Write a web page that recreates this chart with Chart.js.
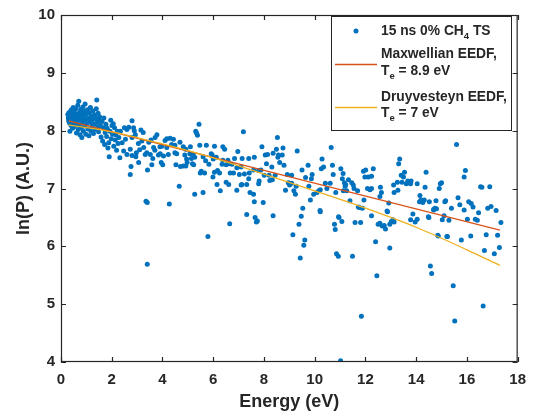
<!DOCTYPE html>
<html>
<head>
<meta charset="utf-8">
<script src="https://cdn.jsdelivr.net/npm/chart.js@4.4.1/dist/chart.umd.min.js"></script>
<style>
  html, body { margin: 0; padding: 0; background: #fff; }
</style>
</head>
<body>
<canvas id="graph-eedf" width="535" height="416"></canvas>
<script>
// Datos: energia (eV) y ln(P) de cada punto TS
const tsPoints = [
  [0.27,8.28],[0.29,8.22],[0.30,8.17],[0.31,8.31],[0.33,8.25],[0.34,8.13],[0.35,7.99],[0.36,8.20],[0.38,8.34],[0.39,8.27],
  [0.40,8.09],[0.41,8.36],[0.43,8.21],[0.44,8.15],[0.45,8.30],[0.46,8.04],[0.48,8.40],[0.49,8.24],[0.50,8.18],
  [0.52,8.33],[0.53,8.07],[0.55,8.26],[0.57,8.12],[0.58,8.38],[0.60,8.21],[0.61,7.96],[0.63,8.29],[0.65,8.16],[0.66,8.44],
  [0.68,8.02],[0.70,8.51],[0.71,8.24],[0.72,8.10],[0.74,8.32],[0.75,7.93],[0.77,8.19],[0.78,8.37],[0.80,8.05],[0.82,7.88],
  [0.83,8.27],[0.85,8.14],[0.86,8.41],[0.88,7.99],[0.90,8.22],[0.91,8.33],[0.93,8.08],[0.95,8.46],[0.96,8.18],[0.98,7.94],
  [1.00,8.28],[1.02,8.12],[1.04,8.36],[1.06,8.03],[1.08,8.21],[1.10,7.91],[1.12,8.31],[1.14,8.15],[1.16,8.40],[1.18,7.99],
  [1.20,8.25],[1.22,8.08],[1.24,8.19],[1.26,8.34],[1.28,7.95],[1.30,8.11],[1.32,8.27],[1.34,8.02],[1.37,8.21],[1.39,8.38],
  [1.41,8.53],[1.42,8.14],[1.44,8.06],[1.46,8.30],[1.48,7.98],[1.50,8.17],[1.52,8.24],[1.55,8.09],[1.58,7.89],
  [1.62,8.16],[1.64,7.82],[1.66,8.05],[1.69,8.22],[1.72,7.76],[1.74,7.97],[1.77,8.11],[1.80,7.90],[1.82,8.04],[1.85,7.70],
  [1.88,7.79],[1.90,7.55],[1.93,7.99],[1.96,8.18],[1.98,7.86],[2.01,8.09],[2.03,7.94],[2.06,8.12],[2.08,7.73],[2.11,8.05],
  [2.14,7.84],[2.16,7.93],[2.19,7.66],[2.22,7.99],[2.25,7.78],
  [2.28,7.88],[2.32,7.53],[2.34,7.99],[2.41,7.79],[2.47,7.65],[2.50,8.05],[2.54,7.85],[2.60,8.02],[2.60,7.59],[2.67,8.06],
  [2.73,7.68],[2.73,7.24],[2.76,7.38],[2.80,7.88],[2.80,7.57],[2.86,8.05],[2.93,7.93],[2.97,7.62],[3.06,7.45],[3.19,7.82],
  [3.26,7.71],[3.32,7.59],[3.41,7.32],[3.52,7.59],[3.58,7.41],[3.65,7.71],[3.71,7.88],[3.78,7.93],[3.84,7.58],
  [2.80,8.17],[2.89,8.00],[3.15,8.01],[3.24,7.97],[3.05,7.78],[3.38,7.62],[3.46,7.80],[3.62,7.52],[3.70,7.66],[3.90,7.72],
  [3.95,7.45],[2.95,7.55],[3.10,7.67],[3.55,7.84],[3.35,6.78],[3.40,6.76],[3.40,5.69],
  [5.44,8.11],[5.31,7.99],[5.34,7.96],[5.38,7.92],[7.19,7.98],[4.10,7.83],[4.17,7.86],[4.30,7.87],[4.43,7.85],[4.69,7.80],
  [3.97,7.73],[4.17,7.71],[4.36,7.76],[4.49,7.75],[4.82,7.72],[4.92,7.68],[5.10,7.72],[5.47,7.75],[5.73,7.75],[6.05,7.73],
  [6.38,7.72],[6.45,7.68],[6.97,7.64],[3.91,7.60],[4.04,7.56],[4.23,7.59],[4.49,7.62],[4.56,7.60],[4.88,7.58],[5.08,7.60],
  [5.21,7.58],[4.95,7.51],[5.14,7.52],[5.27,7.54],[5.60,7.55],[5.92,7.60],[5.96,7.58],[6.12,7.54],[6.38,7.49],[6.58,7.49],
  [6.84,7.52],[7.14,7.52],[7.40,7.52],[7.62,7.54],[4.01,7.41],[4.53,7.41],[4.71,7.38],[4.82,7.39],[4.92,7.39],[4.97,7.45],
  [5.18,7.43],[5.23,7.41],[5.70,7.48],[5.83,7.42],[6.00,7.51],[6.35,7.42],[6.51,7.41],[6.64,7.43],[6.74,7.42],[6.93,7.36],
  [7.10,7.37],[5.53,7.30],[5.49,7.27],[5.66,7.27],[6.05,7.28],[6.17,7.31],[6.25,7.27],[6.67,7.27],[6.80,7.27],[7.03,7.24],
  [7.23,7.25],[7.42,7.27],[7.59,7.32],[7.79,7.31],[5.99,7.20],[7.40,7.17],[6.15,7.07],[6.51,7.11],[6.61,7.07],[7.13,7.07],
  [7.32,7.07],[7.79,7.08],[4.66,7.04],[6.28,6.96],[6.93,6.97],[7.10,7.06],[5.27,6.90],[5.60,6.93],[7.45,6.93],[7.59,6.90],
  [7.62,6.77],[4.27,6.73],[5.79,6.17],[6.65,6.39],[7.32,6.55],[7.65,6.50],[7.70,6.42],[7.74,6.44],
  [8.53,7.88],[7.92,7.72],[8.49,7.68],[8.75,7.70],[9.31,7.65],[8.05,7.58],[8.14,7.59],[8.57,7.58],[8.72,7.58],[8.10,7.43],
  [8.62,7.45],[8.79,7.40],[8.31,7.37],[9.74,7.40],[7.88,7.32],[8.01,7.23],[8.20,7.23],[8.44,7.23],[8.92,7.24],[9.09,7.23],
  [7.81,7.13],[8.23,7.14],[8.33,7.15],[8.96,7.10],[9.01,7.06],[9.09,7.09],[9.27,7.04],[8.85,6.97],[9.18,6.96],[9.24,6.90],
  [9.64,7.19],[9.87,7.17],[9.90,7.24],[10.29,7.51],[10.26,7.34],[10.35,7.37],[10.70,7.40],[10.65,7.71],[9.77,7.04],[9.96,6.90],
  [10.09,6.93],[10.16,6.96],[10.22,6.98],[9.83,6.80],[9.53,6.66],[10.22,6.60],[10.42,7.09],[10.61,7.09],[10.48,7.00],[10.83,6.93],
  [11.17,7.10],[11.22,7.07],[11.33,7.15],[11.26,6.96],[11.13,6.96],[11.52,7.06],[11.39,6.79],[11.69,6.96],[7.97,6.76],[8.36,6.53],
  [9.38,6.38],[9.14,6.20],[9.61,6.11],[10.94,6.51],[10.78,6.38],[10.81,6.29],[11.07,6.43],[11.59,6.41],
  [8.36,7.61],[8.55,7.54],[9.50,7.32],[10.73,7.24],[11.09,7.17],[11.46,7.10],[11.55,7.00],[11.20,7.04],[11.03,7.34],[11.12,7.26],
  [9.47,6.52],[9.57,6.02],[9.43,5.80],[10.21,6.62],[10.96,6.50],[10.86,5.87],[10.93,5.83],[11.49,5.83],[11.81,6.41],[11.76,6.67],
  [11.84,4.79],[11.02,4.02],
  [13.35,7.51],[13.31,7.43],[11.92,7.30],[12.01,7.32],[12.31,7.34],[12.24,7.21],[11.98,7.20],[12.11,7.20],[14.39,7.28],[13.41,7.23],
  [13.67,7.13],[13.74,7.10],[13.80,7.13],[13.78,7.08],[13.61,7.08],[13.26,7.11],[13.44,7.11],[14.04,7.08],[14.95,7.08],[14.91,7.00],
  [12.08,7.00],[12.24,7.00],[12.18,6.98],[13.13,6.93],[13.28,6.97],[12.63,6.93],[12.57,6.86],[14.19,6.80],[14.32,6.80],[14.13,6.77],
  [14.26,6.76],[14.52,6.77],[14.78,6.79],[15.13,6.77],[12.92,6.75],[11.72,6.68],[11.88,6.66],[14.74,6.66],[14.69,6.63],[12.87,6.60],
  [13.87,6.56],[12.24,6.53],[13.09,6.46],[13.02,6.43],[13.13,6.42],[14.48,6.51],[13.78,6.46],[13.96,6.42],[14.04,6.47],[12.50,6.38],
  [12.57,6.40],[12.66,6.35],[12.74,6.36],[12.79,6.30],[12.96,6.38],[14.85,6.19],[15.21,6.17],[12.40,6.08],[12.96,5.97],[12.85,6.61],
  [13.54,7.28],[13.50,7.20],[13.11,7.06],[14.35,7.02],[14.15,6.88],[12.59,7.02],[11.94,6.80],[12.45,5.49],
  [14.50,6.50],[14.69,6.64],[14.80,6.65],[14.87,6.18],[14.56,5.66],[14.61,5.53],
  [15.59,7.76],[15.94,7.31],[15.89,7.20],[16.54,7.03],[16.59,7.02],[16.90,7.03],[15.16,6.79],[15.65,6.84],[15.72,6.72],[15.39,6.66],
  [15.89,6.63],[16.07,6.77],[16.17,6.74],[16.24,6.68],[16.46,6.58],[16.82,6.66],[16.95,6.69],[17.15,6.62],[17.34,6.41],[15.10,6.53],
  [15.03,6.46],[15.29,6.45],[16.02,6.47],[16.33,6.47],[16.41,6.45],[15.23,6.17],[15.78,6.11],[16.15,6.18],[16.76,6.20],[17.21,6.19],
  [16.69,5.93],[17.08,5.87],[17.28,5.98],[15.46,5.32],[16.64,4.97],[15.52,4.71],[15.00,7.10]
];

// Ajuste Maxwelliano (recta) y Druyvesteyn
const maxwellE = [0.3, 17.3];
const maxwellLnP = [8.17, 6.28];
const druyE = [0.3, 2, 4, 6, 8, 10, 12, 14, 16, 17.3];
const druyLnP = [8.10, 7.98, 7.77, 7.53, 7.25, 6.96, 6.66, 6.33, 5.94, 5.67];

const xTicks = [0, 2, 4, 6, 8, 10, 12, 14, 16, 18];
const yTicks = [4, 5, 6, 7, 8, 9, 10];

// Colores por defecto de MATLAB
const colores = ["#0072BD", "#D95319", "#EDB120"];
const ejeColor = "#262626";
const fuente = "'Liberation Sans', Arial, Helvetica, sans-serif";

// Caja del eje con marcas hacia dentro en los cuatro lados
const cajaEjes = {
  id: "cajaEjes",
  afterDraw(chart) {
    const { ctx, chartArea: a, scales } = chart;
    ctx.save();
    ctx.strokeStyle = ejeColor;
    ctx.lineWidth = 1.2;
    ctx.strokeRect(a.left + 0.5, a.top + 0.5, a.right - a.left - 1, a.bottom - a.top - 1);
    ctx.beginPath();
    xTicks.forEach(v => {
      const px = Math.round(scales.x.getPixelForValue(v)) + 0.5;
      ctx.moveTo(px, a.bottom); ctx.lineTo(px, a.bottom - 5);
      ctx.moveTo(px, a.top); ctx.lineTo(px, a.top + 5);
    });
    yTicks.forEach(v => {
      const py = Math.round(scales.y.getPixelForValue(v)) + 0.5;
      ctx.moveTo(a.left, py); ctx.lineTo(a.left + 5, py);
      ctx.moveTo(a.right, py); ctx.lineTo(a.right - 5, py);
    });
    ctx.stroke();
    ctx.restore();
  }
};

// Leyenda propia (para poder escribir subindices)
function textoSub(ctx, partes, x, y) {
  partes.forEach(p => {
    if (p.sub) {
      ctx.font = "bold 9.5px " + fuente;
      ctx.fillText(p.t, x, y + 5);
    } else {
      ctx.font = "bold 13.8px " + fuente;
      ctx.fillText(p.t, x, y);
    }
    x += ctx.measureText(p.t).width;
  });
}

const leyenda = {
  id: "leyenda",
  afterDraw(chart) {
    const ctx = chart.ctx;
    const box = { left: 331, top: 16, right: 511, bottom: 130 };
    ctx.save();
    ctx.fillStyle = "#fff";
    ctx.fillRect(box.left, box.top, box.right - box.left, box.bottom - box.top);
    ctx.strokeStyle = ejeColor;
    ctx.lineWidth = 1;
    ctx.strokeRect(box.left + 0.5, box.top + 0.5, box.right - box.left, box.bottom - box.top);

    ctx.fillStyle = colores[0];
    ctx.beginPath();
    ctx.arc(356, 31, 2.5, 0, Math.PI * 2);
    ctx.fill();

    ctx.lineWidth = 1.3;
    ctx.strokeStyle = colores[1];
    ctx.beginPath(); ctx.moveTo(335, 64.5); ctx.lineTo(377, 64.5); ctx.stroke();
    ctx.strokeStyle = colores[2];
    ctx.beginPath(); ctx.moveTo(335, 107.5); ctx.lineTo(377, 107.5); ctx.stroke();

    ctx.fillStyle = ejeColor;
    ctx.textBaseline = "middle";
    const tx = 381;
    textoSub(ctx, [{ t: "15 ns 0% CH" }, { t: "4", sub: true }, { t: " TS" }], tx, 31);
    textoSub(ctx, [{ t: "Maxwellian EEDF," }], tx, 54);
    textoSub(ctx, [{ t: "T" }, { t: "e", sub: true }, { t: " = 8.9 eV" }], tx, 71);
    textoSub(ctx, [{ t: "Druyvesteyn EEDF," }], tx, 97);
    textoSub(ctx, [{ t: "T" }, { t: "e", sub: true }, { t: " = 7 eV" }], tx, 113);
    ctx.restore();
  }
};

const canvas = document.getElementById("graph-eedf");

const grafico = new Chart(canvas, {
  type: "scatter",
  data: {
    datasets: [
      {
        label: "15 ns 0% CH4 TS",
        data: tsPoints.map(p => ({ x: p[0], y: p[1] })),
        backgroundColor: colores[0],
        borderWidth: 0,
        pointRadius: 2.5,
        order: 3,
      },
      {
        label: "Maxwellian EEDF, Te = 8.9 eV",
        data: maxwellE.map((e, i) => ({ x: e, y: maxwellLnP[i] })),
        showLine: true,
        borderColor: colores[1],
        borderWidth: 1.3,
        pointRadius: 0,
        order: 2,
      },
      {
        label: "Druyvesteyn EEDF, Te = 7 eV",
        data: druyE.map((e, i) => ({ x: e, y: druyLnP[i] })),
        showLine: true,
        borderColor: colores[2],
        borderWidth: 1.3,
        pointRadius: 0,
        cubicInterpolationMode: "monotone",
        order: 1,
      },
    ],
  },
  options: {
    responsive: false,
    animation: false,
    layout: { padding: { top: 8, right: 13, left: 0, bottom: 0 } },
    scales: {
      x: {
        type: "linear",
        min: 0,
        max: 18,
        afterFit: s => { s.height = 54; },
        afterBuildTicks: s => { s.ticks = xTicks.map(v => ({ value: v })); },
        grid: { display: false, drawTicks: false },
        border: { display: false },
        ticks: { color: ejeColor, padding: 9, font: { family: fuente, size: 15, weight: "bold" } },
        title: {
          display: true,
          text: "Energy (eV)",
          color: ejeColor,
          padding: { top: 0, bottom: 3 },
          font: { family: fuente, size: 18, weight: "bold" },
        },
      },
      y: {
        min: 4,
        max: 10,
        afterFit: s => { s.width = 61; },
        afterBuildTicks: s => { s.ticks = yTicks.map(v => ({ value: v })); },
        grid: { display: false, drawTicks: false },
        border: { display: false },
        ticks: { color: ejeColor, padding: 6, font: { family: fuente, size: 15, weight: "bold" } },
        title: {
          display: true,
          text: "ln(P) (A.U.)",
          color: ejeColor,
          padding: { top: 13, bottom: 0 },
          font: { family: fuente, size: 18, weight: "bold" },
        },
      },
    },
    plugins: {
      legend: { display: false },
      tooltip: { enabled: false },
    },
  },
  plugins: [cajaEjes, leyenda],
});
</script>
</body>
</html>
